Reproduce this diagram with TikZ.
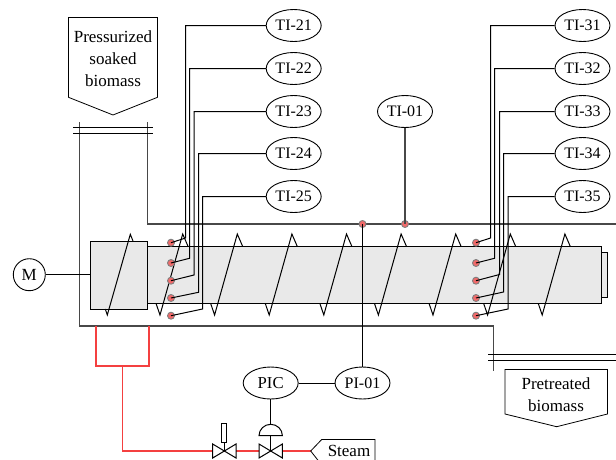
\documentclass[tikz,border=0pt]{standalone}
\usepackage{fontspec}
\setmainfont{Liberation Serif}
\usetikzlibrary{shapes.geometric}
\definecolor{dotred}{HTML}{F26A6A}
\definecolor{steamred}{HTML}{F44040}
\definecolor{fillgrey}{HTML}{E9E9E9}
\definecolor{framegrey}{HTML}{484848}
\tikzset{
  x=1pt,y=-1pt,
  every node/.style={font=\fontsize{17}{21.7}\selectfont},
  inst/.style={ellipse,draw=black,fill=white,line width=0.9pt,minimum width=55pt,minimum height=32pt,inner sep=0pt,font=\fontsize{16}{20}\selectfont},
  probe/.style={circle,draw=gray,fill=dotred,line width=0.9pt,minimum size=7pt,inner sep=0pt},
  wire/.style={draw=black,line width=1pt},
  frame/.style={draw=framegrey,line width=1.3pt},
  steam/.style={draw=steamred,line width=1.5pt},
  body/.style={draw=black,fill=fillgrey,line width=1pt},
  tag/.style={draw=black,fill=white,line width=0.8pt,line join=miter},
  plain/.style={inner sep=0pt,align=center}
}
\begin{document}
\begin{tikzpicture}
\clip (0,0) rectangle (616,459);
\fill[white] (0,0) rectangle (616,459);

% tags
\draw[tag] (68.5,17.5) -- (157.5,17.5) -- (157.5,97.3) -- (113,115) -- (68.5,97.3) -- cycle;
\node[plain] (feed) at (113,58.5) {Pressurized\\soaked\\biomass};
\draw[tag] (505,369.5) -- (607.5,369.5) -- (607.5,414) -- (556.7,426.7) -- (505,414) -- cycle;
\node[plain] (prod) at (556,394.5) {Pretreated\\biomass};

% pipes
\draw[frame] (79.3,122) -- (79.3,326) -- (493.5,326) -- (493.5,371.3);
\draw[frame] (147.5,122) -- (147.5,224) -- (616,224);
\draw[wire] (73.3,127.5) -- (152.7,127.5) (73.3,133) -- (152.7,133);
\draw[wire] (488,354.5) -- (616,354.5) (488,360) -- (616,360);

% extruder
\draw[body] (147.5,246.5) rectangle (601.5,303.5);
\draw[body] (601.5,252.5) rectangle (607.5,297.5);
\draw[body] (90.5,241) rectangle (147.5,309);
\draw[wire] (105.3,309) -- (107.3,315) -- (130.3,234.3) -- (133,241);
\foreach \i in {0,...,7}{
  \pgfmathsetmacro{\s}{156+54.6*\i}
  \draw[wire,line join=miter] (\s,303.3) -- (\s+4,315) -- (\s+26.7,234) -- (\s+32.2,246.7);
}
\node[circle,draw=black,fill=white,line width=0.9pt,minimum size=32pt,inner sep=0pt] (M) at (29.3,274.7) {M};
\coordinate (gearW) at (90.5,274.7);
\draw[wire] (M) -- (gearW);

% probes
\node[probe] (d21) at (171,242.7) {};
\node[probe] (d22) at (171,263) {};
\node[probe] (d23) at (171,280.7) {};
\node[probe] (d24) at (171,298) {};
\node[probe] (d25) at (171,315.7) {};
\node[probe] (d31) at (476,242.7) {};
\node[probe] (d32) at (476,263) {};
\node[probe] (d33) at (476,280.7) {};
\node[probe] (d34) at (476,298) {};
\node[probe] (d35) at (476,315.7) {};
\node[probe] (d01) at (405,224) {};
\node[probe] (dp) at (362.5,224) {};

% instruments
\node[inst] (t21) at (293.7,25.5) {TI-21};
\node[inst] (t22) at (293.7,68.5) {TI-22};
\node[inst] (t23) at (293.7,111.5) {TI-23};
\node[inst] (t24) at (293.7,153.5) {TI-24};
\node[inst] (t25) at (293.7,196.5) {TI-25};
\node[inst] (t31) at (582.5,25.5) {TI-31};
\node[inst] (t32) at (582.5,68.5) {TI-32};
\node[inst] (t33) at (582.5,111.5) {TI-33};
\node[inst] (t34) at (582.5,153.5) {TI-34};
\node[inst] (t35) at (582.5,196.5) {TI-35};
\node[inst] (t01) at (405,111.5) {TI-01};
\node[inst] (pi) at (362.5,383) {PI-01};
\node[inst,font=\fontsize{16.7}{20}\selectfont] (pic) at (270.7,383) {PIC};

% leaders
\draw[wire] (t21.west) -- (185.5,25.5) -- (185.5,238) -- (d21.center);
\draw[wire] (t22.west) -- (189.5,68.5) -- (189.5,258.3) -- (d22.center);
\draw[wire] (t23.west) -- (194,111.5) -- (194,275) -- (d23.center);
\draw[wire] (t24.west) -- (198.5,153.5) -- (198.5,292.3) -- (d24.center);
\draw[wire] (t25.west) -- (202.5,196.5) -- (202.5,309) -- (d25.center);
\draw[wire] (t31.west) -- (490.5,25.5) -- (490.5,238) -- (d31.center);
\draw[wire] (t32.west) -- (494.5,68.5) -- (494.5,258.3) -- (d32.center);
\draw[wire] (t33.west) -- (499.5,111.5) -- (499.5,274.5) -- (d33.center);
\draw[wire] (t34.west) -- (503.5,153.5) -- (503.5,292) -- (d34.center);
\draw[wire] (t35.west) -- (508,196.5) -- (508,309) -- (d35.center);
\draw[frame] (t01) -- (d01.center);
\draw[wire] (dp.center) -- (pi);
\draw[wire] (pic) -- (pi);

% steam line
\coordinate (v1) at (224.5,451);
\coordinate (v2) at (270.7,451);
\coordinate (tip) at (310.7,451);
\draw[steam] (96,326) -- (96,366) -- (149,366) -- (149,326);
\draw[steam] (122.7,366) -- (122.7,451) -- (v1);
\draw[steam] (v1) -- (v2) -- (tip);

% valves
\draw[wire,fill=white,line join=miter] (212.7,444) -- (236,458) -- (236,444) -- (212.7,458) -- cycle;
\draw[wire,fill=white,line join=miter] (259,444) -- (282.4,458) -- (282.4,444) -- (259,458) -- cycle;
\draw[wire] (v1) -- (224.5,442);
\draw[wire,fill=white] (221.7,423.5) rectangle (226.7,442);
\draw[wire] (pic) -- (v2);
\draw[wire,fill=white] (259,435.7) arc[start angle=180,end angle=360,x radius=11.7,y radius=11.4] -- cycle;

% steam tag
\draw[tag] (tip) -- (321.7,439.5) -- (375,439.5) -- (375,465) -- (321.7,465) -- cycle;
\node[plain] (stm) at (349,451) {Steam};
\end{tikzpicture}
\end{document}
